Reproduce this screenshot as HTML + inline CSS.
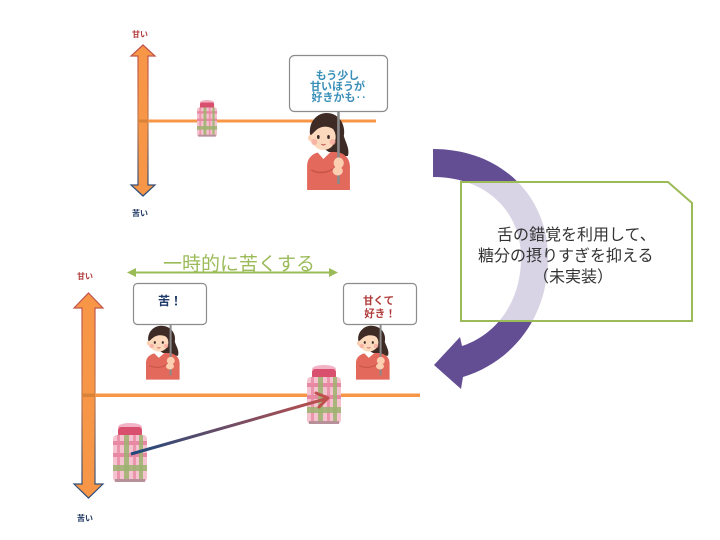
<!DOCTYPE html>
<html><head><meta charset="utf-8"><style>
html,body{margin:0;padding:0;background:#fff;}
svg{display:block;}
text{font-family:"Liberation Sans","Noto Sans CJK JP",sans-serif;}
</style></head><body>
<svg width="720" height="540" viewBox="0 0 720 540" xmlns="http://www.w3.org/2000/svg">
<defs>
  <linearGradient id="axg1" x1="0" y1="45" x2="0" y2="196" gradientUnits="userSpaceOnUse">
    <stop offset="0" stop-color="#c0504d"/><stop offset="0.5" stop-color="#c07a55"/><stop offset="1" stop-color="#1f497d"/>
  </linearGradient>
  <linearGradient id="axg2" x1="0" y1="293" x2="0" y2="498" gradientUnits="userSpaceOnUse">
    <stop offset="0" stop-color="#c0504d"/><stop offset="0.5" stop-color="#c07a55"/><stop offset="1" stop-color="#1f497d"/>
  </linearGradient>
  <linearGradient id="lg" x1="131" y1="454" x2="328" y2="398" gradientUnits="userSpaceOnUse">
    <stop offset="0" stop-color="#1f497d"/><stop offset="1" stop-color="#c0504d"/>
  </linearGradient>
  <g id="jar">
    <ellipse cx="17" cy="4" rx="12" ry="4" fill="#f3b3c6"/>
    <rect x="5" y="4" width="24" height="10" rx="3" fill="#d9506e"/>
    <rect x="0" y="12" width="34" height="47" rx="4" fill="#f4c3cf"/>
    <rect x="0" y="18" width="34" height="4" fill="#e889a3"/>
    <rect x="0" y="30" width="34" height="4" fill="#e889a3"/>
    <rect x="4" y="12" width="3" height="47" fill="#e889a3" opacity="0.8"/>
    <rect x="20" y="12" width="3" height="47" fill="#e889a3" opacity="0.8"/>
    <rect x="11" y="12" width="5" height="47" fill="#9cb36f" opacity="0.85"/>
    <rect x="26" y="12" width="4" height="47" fill="#9cb36f" opacity="0.85"/>
    <rect x="0" y="42" width="34" height="6" fill="#9cb36f" opacity="0.85"/>
    <rect x="2" y="56" width="30" height="3" fill="#b8909a"/>
  </g>
  <g id="girl">
    <path d="M9,28 C4,12 14,1 24,1 C36,1 43,12 41,24 C43,31 47,37 45,44 L32,44 Z" fill="#3e2b25"/>
    <path d="M5,78 L5,54 C5,45 12,40 20,40 L32,40 C41,40 47,46 47,55 L47,78 Z" fill="#e2695b"/>
    <path d="M15,40 L21,47 L28,40 Z" fill="#ffffff"/>
    <ellipse cx="9" cy="26" rx="3" ry="3.5" fill="#fbcfb0"/>
    <ellipse cx="21" cy="25" rx="12" ry="13" fill="#fcd9bd"/>
    <path d="M9,23 C9,10 19,4 27,5 C35,7 37,14 35,21 C29,14 20,12 13,19 Z" fill="#3e2b25"/>
    <ellipse cx="16" cy="25" rx="1.3" ry="2" fill="#3a2a26"/>
    <ellipse cx="26" cy="25" rx="1.3" ry="2" fill="#3a2a26"/>
    <circle cx="12" cy="30" r="3" fill="#f6a39a" opacity="0.7"/>
    <circle cx="30" cy="30" r="3" fill="#f6a39a" opacity="0.7"/>
    <path d="M19,32 Q21,34 23,32" stroke="#c0504d" stroke-width="1" fill="none"/>
    <path d="M9,58 C18,63 28,60 34,54" stroke="#c9544a" stroke-width="1.5" fill="none"/>
    <rect x="34.5" y="-2" width="2.5" height="74" fill="#8a8a8a"/>
    <ellipse cx="36" cy="51" rx="5" ry="5.5" fill="#fbcfb0"/>
    <ellipse cx="35" cy="59" rx="5" ry="4.5" fill="#fbcfb0"/>
  </g>
</defs>

<!-- TOP SECTION -->
<text x="132" y="37" font-size="8" font-weight="bold" fill="#b03a3a">甘い</text>
<text x="132" y="216" font-size="8" font-weight="bold" fill="#1f3864">苦い</text>
<path d="M143,45 L155,56 L148,56 L148,185 L155,185 L143,196 L131,185 L138,185 L138,56 L131,56 Z" fill="#f79646" stroke="url(#axg1)" stroke-width="1.2" stroke-linejoin="miter"/>
<rect x="138" y="119.5" width="238" height="3" fill="#f79646"/>
<rect x="138" y="119.5" width="10" height="3" fill="#d9823a"/>
<use href="#jar" transform="translate(197,100) scale(0.59,0.62)"/>
<use href="#girl" transform="translate(302,112) scale(1.02,1)"/>
<rect x="289.5" y="55.5" width="98" height="56" rx="5" fill="#fff" stroke="#8c8c8c" stroke-width="1.2"/>
<text font-size="11" font-weight="bold" fill="#3a8fb9" text-anchor="middle">
  <tspan x="339" y="79">もう少し</tspan>
  <tspan x="339" y="90">甘いほうが</tspan>
  <tspan x="339" y="101">好きかも‥</tspan>
</text>

<!-- BOTTOM SECTION -->
<text x="77" y="279" font-size="8" font-weight="bold" fill="#b03a3a">甘い</text>
<text x="77" y="521" font-size="8" font-weight="bold" fill="#1f3864">苦い</text>
<path d="M88.5,293 L103,308 L95,308 L95,484 L103,484 L88.5,498 L74,484 L82,484 L82,308 L74,308 Z" fill="#f79646" stroke="url(#axg2)" stroke-width="1.2"/>
<rect x="82" y="393.5" width="338" height="3.5" fill="#f79646"/>
<rect x="82" y="393.5" width="13" height="3.5" fill="#d9823a"/>

<!-- green double arrow + label -->
<line x1="132" y1="272.5" x2="333" y2="272.5" stroke="#9bbb59" stroke-width="2"/>
<path d="M127,272.5 L136,268 L136,277 Z" fill="#9bbb59"/>
<path d="M338,272.5 L329,268 L329,277 Z" fill="#9bbb59"/>
<text x="163" y="270" font-size="19" fill="#9bbb59">一時的に苦くする</text>

<!-- girls & signs -->
<use href="#girl" transform="translate(142,325) scale(0.8,0.7)"/>
<use href="#girl" transform="translate(352,325) scale(0.8,0.7)"/>
<rect x="133.5" y="283.5" width="73" height="41" rx="4" fill="#fff" stroke="#8c8c8c" stroke-width="1.2"/>
<text x="170" y="305" font-size="12" font-weight="bold" fill="#1f3a68" text-anchor="middle">苦！</text>
<rect x="343.5" y="283.5" width="73" height="41" rx="4" fill="#fff" stroke="#8c8c8c" stroke-width="1.2"/>
<text font-size="10.5" font-weight="bold" fill="#b03a3a" text-anchor="middle">
  <tspan x="380" y="304">甘くて</tspan>
  <tspan x="380" y="317">好き！</tspan>
</text>

<!-- jars -->
<use href="#jar" transform="translate(307,365)"/>
<use href="#jar" transform="translate(113,423)"/>

<!-- gradient arrow -->
<line x1="131" y1="454" x2="327" y2="398.5" stroke="url(#lg)" stroke-width="3"/>
<path d="M316,393 L328,398 L319,407" fill="none" stroke="#c0504d" stroke-width="3" stroke-linecap="round" stroke-linejoin="round"/>

<!-- purple curved arrow -->
<path d="M433,149 C500,149 548,195 548,258 C548,318 512,362 463,377 L461,389 L434,365 L460,337 L462,346 C498,334 521,300 521,258 C521,212 487,177 433,177 Z" fill="#634d93"/>

<!-- overlay box -->
<path d="M461,182 L668,182 L692,203 L692,321 L461,321 Z" fill="#ffffff" fill-opacity="0.76" stroke="#9bbb59" stroke-width="2"/>
<text font-size="16" fill="#333">
  <tspan x="497" y="240">舌の錯覚を利用して、</tspan>
  <tspan x="478" y="261">糖分の摂りすぎを抑える</tspan>
  <tspan x="533" y="282">（未実装）</tspan>
</text>
</svg>
</body></html>
